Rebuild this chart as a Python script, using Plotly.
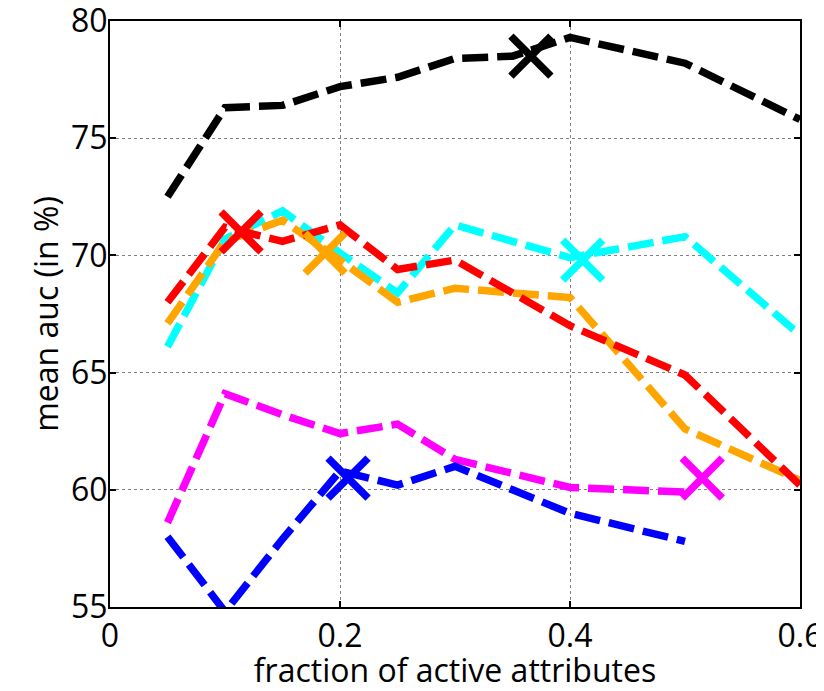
import plotly.graph_objects as go

x_vals = [0.05, 0.10, 0.15, 0.20, 0.25, 0.30, 0.35, 0.40, 0.50, 0.60]

black = [72.5, 76.3, 76.4, 77.2, 77.6, 78.4, 78.5, 79.3, 78.2, 75.8]
red = [68.0, 71.2, 70.6, 71.3, 69.4, 69.8, 68.4, 67.0, 64.9, 60.2]
cyan = [66.1, 70.7, 71.9, 70.1, 68.4, 71.3, 70.6, 69.9, 70.8, 66.6]
orange = [67.1, 70.6, 71.5, 69.8, 68.0, 68.6, 68.4, 68.2, 62.6, 60.4]
magenta = [58.6, 64.1, 63.2, 62.4, 62.8, 61.3, 60.7, 60.1, 59.9, None]
blue = [58.0, 54.8, 57.9, 60.8, 60.2, 61.0, 60.0, 59.0, 57.8, None]

best_x = {"black": 0.366, "red": 0.114, "cyan": 0.411, "orange": 0.187,
          "magenta": 0.515, "blue": 0.207}
best_y = {"black": 78.5, "red": 71.0, "cyan": 69.8, "orange": 70.1,
          "magenta": 60.5, "blue": 60.5}

series = [
    ("cyan", cyan, "#00ffff"),
    ("orange", orange, "#ffa500"),
    ("red", red, "#ff0000"),
    ("magenta", magenta, "#ff00ff"),
    ("blue", blue, "#0000ff"),
    ("black", black, "#000000"),
]

fig = go.Figure()
for name, ys, col in series:
    fig.add_trace(go.Scatter(
        x=x_vals, y=ys, mode="lines", name=name,
        line=dict(color=col, width=7.5, dash="26px,9px"),
        connectgaps=False, showlegend=False))
for name, ys, col in series:
    fig.add_trace(go.Scatter(
        x=[best_x[name]], y=[best_y[name]], mode="markers", showlegend=False,
        marker=dict(symbol="x-thin", size=40, color=col,
                    line=dict(color=col, width=7.5))))

font = "Open Sans, Lato, sans-serif"
# page body has an 8px margin: figure is 816x683 so it ends at the window edge
fig.update_layout(
    width=816, height=683,
    margin=dict(l=102, r=24, t=13, b=84, autoexpand=False),
    paper_bgcolor="white", plot_bgcolor="white",
    font=dict(family=font, size=32, color="black"),
)
fig.update_xaxes(
    range=[0, 0.6], tickvals=[0, 0.2, 0.4, 0.6], ticktext=["0", "0.2", "0.4", "0.6"],
    showline=True, linecolor="black", linewidth=2, mirror="ticks",
    ticks="inside", ticklen=6, tickwidth=2, tickcolor="black",
    showgrid=True, gridcolor="#808080", gridwidth=1, griddash="dot",
    zeroline=False, automargin=False, ticklabelstandoff=0,
    ticklabeloverflow="allow",
    title=dict(text="fraction of active attributes", font=dict(size=32), standoff=17),
)
fig.update_yaxes(
    range=[55, 80], tickvals=[55, 60, 65, 70, 75, 80],
    showline=True, linecolor="black", linewidth=2, mirror="ticks",
    ticks="inside", ticklen=6, tickwidth=2, tickcolor="black",
    showgrid=True, gridcolor="#808080", gridwidth=1, griddash="dot",
    zeroline=False, automargin=False, ticklabelstandoff=-6,
    ticklabeloverflow="allow",
    title=dict(text="mean auc (in %)", font=dict(size=32), standoff=3),
)

fig.write_html("out.html")
